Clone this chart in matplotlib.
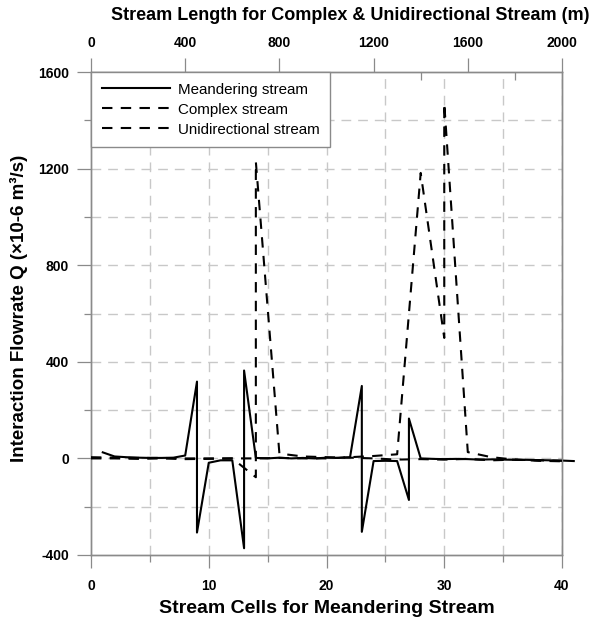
import matplotlib
matplotlib.use("Agg")
import matplotlib.pyplot as plt
from matplotlib.ticker import MultipleLocator, FixedLocator

# Meandering stream (stream cells)
mean_cells = [1, 2, 3, 4, 5, 6, 7, 8, 9, 9, 10, 11, 12, 13, 13, 14, 15, 16, 17, 18, 19, 20,
              21, 22, 23, 23, 24, 25, 26, 27, 27, 28, 29, 30, 31, 32, 33, 34, 35, 36, 37,
              38, 39, 40, 41]
mean_q = [25, 8, 5, 3, 2, 2, 3, 12, 318, -307, -18, -8, -8, -372, 364, 2, 0, 3, 0, 2, 0, 3,
          2, 5, 300, -304, -11, -10, -11, -172, 165, 0, -2, -3, -2, -3, -5, -4, -5, -6, -6,
          -7, -8, -9, -11]

# Complex stream (stream length, m)
complex_len = [0, 100, 200, 300, 400, 500, 600, 700, 700, 800, 900, 1000, 1100, 1200,
               1300, 1400, 1500, 1600, 1700, 1800, 1900, 2000]
complex_q = [0, 0, -2, 0, -3, -2, 0, -78, 1228, 20, 8, 5, 3, 0, -5, -3, -5, -2, -8, -5,
             -10, -12]

# Unidirectional stream (stream length, m)
uni_len = [0, 100, 200, 300, 400, 500, 600, 700, 800, 900, 1000, 1100, 1200, 1300, 1400,
           1500, 1500, 1600, 1700, 1800, 1900, 2000]
uni_q = [5, 3, 2, 2, 0, 0, 0, 0, 2, 0, 0, 5, 10, 17, 1182, 499, 1471, 26, 5, -5, -8, -10]

bottom_ticks = [0, 10, 20, 30, 40]
top_ticks = [0, 400, 800, 1200, 1600, 2000]
y_ticks = [-400, 0, 400, 800, 1200, 1600]

plt.rcParams['font.family'] = ['Liberation Sans', 'DejaVu Sans']
plt.rcParams['axes.unicode_minus'] = False

W, H = 595, 623
fig = plt.figure(figsize=(W / 100, H / 100), dpi=100)
L, R, T, B = 91, 562, 72, 555
ax = fig.add_axes([L / W, 1 - B / H, (R - L) / W, (B - T) / H])

spine_col = '#8a8a8a'
grid_col = '#c8c8c8'

ax.set_xlim(0, 40)
ax.set_ylim(-400, 1600)
ax.xaxis.set_major_locator(FixedLocator(bottom_ticks))
ax.xaxis.set_minor_locator(MultipleLocator(5))
ax.yaxis.set_major_locator(FixedLocator(y_ticks))
ax.yaxis.set_minor_locator(MultipleLocator(200))

for x in range(5, 41, 5):
    ax.axvline(x, color=grid_col, lw=1.0, dashes=(7, 5), zorder=0)
for y in range(-200, 1600, 200):
    ax.axhline(y, color=grid_col, lw=1.0, dashes=(7, 5), zorder=0)

for s in ax.spines.values():
    s.set_color(spine_col)
    s.set_linewidth(1.0)

ax.tick_params(axis='x', which='major', direction='out', length=9, width=0.9,
               color=spine_col, labelsize=10, pad=8, top=True)
ax.tick_params(axis='x', which='minor', direction='out', length=5, width=0.9,
               color=spine_col, top=True)
ax.tick_params(axis='y', which='major', direction='out', length=10, width=0.9,
               color=spine_col, labelsize=10, pad=6)
ax.tick_params(axis='y', which='minor', direction='out', length=5, width=0.9,
               color=spine_col)
for lab in ax.get_xticklabels() + ax.get_yticklabels():
    lab.set_fontweight('bold')

l1, = ax.plot(mean_cells, mean_q, color='black', lw=1.5, clip_on=False,
              label='Meandering stream', zorder=3)

ax2 = ax.twiny()
ax2.set_xlim(0, 2000)
ax2.xaxis.set_major_locator(FixedLocator(top_ticks))
ax2.xaxis.set_minor_locator(MultipleLocator(200))
ax2.tick_params(axis='x', which='major', direction='out', length=10, width=0.9,
                color=spine_col, labelsize=10, pad=6)
ax2.tick_params(axis='x', which='minor', direction='in', length=6, width=0.9,
                color=spine_col)
for lab in ax2.get_xticklabels():
    lab.set_fontweight('bold')
for s in ax2.spines.values():
    s.set_color(spine_col)
    s.set_linewidth(1.0)

l2, = ax2.plot(complex_len, complex_q, color='black', lw=1.5, dashes=(5, 4),
               label='Complex stream', zorder=3)
l3, = ax2.plot(uni_len, uni_q, color='black', lw=1.5, dashes=(5, 4),
               label='Unidirectional stream', zorder=3)

leg = ax2.legend(handles=[l1, l2, l3], loc='upper left', bbox_to_anchor=(0, 1),
                 fontsize=10.9, frameon=True, fancybox=False, framealpha=1,
                 edgecolor=spine_col, handlelength=4.5, handletextpad=0.55,
                 labelspacing=0.4, borderpad=0.7, borderaxespad=0)
leg.get_frame().set_linewidth(1.0)

ax.set_xlabel('Stream Cells for Meandering Stream', fontsize=14, fontweight='bold',
              labelpad=5)
ax.set_ylabel('Interaction Flowrate Q (×10-6 m³/s)', fontsize=13.5, fontweight='bold')
ax.yaxis.set_label_coords((28 - L) / (R - L), (B - 308) / (B - T))
fig.text(350 / W, 1 - 15 / H, 'Stream Length for Complex & Unidirectional Stream (m)',
         ha='center', va='center', fontsize=13, fontweight='bold')

fig.savefig('out.png', dpi=100)
